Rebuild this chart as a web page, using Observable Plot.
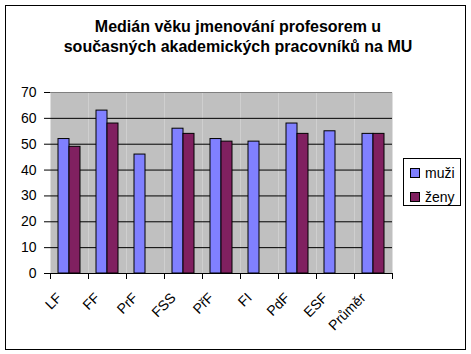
<!DOCTYPE html>
<html>
<head>
<meta charset="utf-8">
<script src="https://cdn.jsdelivr.net/npm/d3@7"></script>
<script src="https://cdn.jsdelivr.net/npm/@observablehq/plot@0.6"></script>
<style>
  html, body { margin: 0; padding: 0; background: #fff; }
  #wrap { position: relative; width: 471px; height: 354px; font-family: Arial, "Liberation Sans", sans-serif; color: #000; }
  #border { position: absolute; left: 5px; top: 5px; width: 459px; height: 343px; border: 1px solid #000; box-sizing: content-box; }
  #title { position: absolute; left: 3px; width: 470px; top: 17px; text-align: center; font-weight: bold; font-size: 16px; line-height: 20px; }
  #chart { position: absolute; left: 0; top: 0; }
  #legend { position: absolute; left: 403px; top: 158px; width: 56px; height: 46px; border: 1px solid #000; background: #fff; font-size: 14px; }
  .item { position: absolute; left: 6px; height: 16px; display: flex; align-items: center; }
  .sw { width: 8px; height: 8px; border: 1px solid #000; margin-right: 5px; }
</style>
</head>
<body>
<div id="wrap">
  <div id="border"></div>
  <div id="title">Medián věku jmenování profesorem u<br>současných akademických pracovníků na MU</div>
  <div id="chart"></div>
  <div id="legend"></div>
</div>
<script>
const categories = ["LF", "FF", "PrF", "FSS", "PřF", "FI", "PdF", "ESF", "Průměr"];
const seriesNames = ["muži", "ženy"];
const muzi = [52, 63, 46, 56, 52, 51, 58, 55, 54];
const zeny = [49, 58, null, 54, 51, null, 54, null, 54];
const seriesColors = ["#8080ff", "#802060"];
const yTicks = [0, 10, 20, 30, 40, 50, 60, 70];
const gridTicks = [10, 20, 30, 40, 50, 60];

const rows = [];
categories.forEach((c, i) => {
  if (muzi[i] != null) rows.push({cat: c, series: seriesNames[0], value: muzi[i]});
  if (zeny[i] != null) rows.push({cat: c, series: seriesNames[1], value: zeny[i]});
});

const plot = Plot.plot({
  width: 471,
  height: 354,
  marginLeft: 49,
  marginRight: 78,
  marginTop: 92,
  marginBottom: 81,
  style: {fontFamily: "Arial, 'Liberation Sans', sans-serif", fontSize: "14px", color: "#000", background: "transparent", overflow: "visible"},
  fx: {domain: categories, padding: 0, axis: null, label: null},
  x: {domain: seriesNames, paddingInner: 0, paddingOuter: 0.63, axis: null, label: null},
  y: {domain: [0, 70], axis: null, label: null},
  color: {domain: seriesNames, range: seriesColors},
  marks: [
    Plot.frame({fill: "#c0c0c0", stroke: "none"}),
    Plot.ruleY(gridTicks, {stroke: "#000", strokeWidth: 1}),
    Plot.ruleY([70], {stroke: "#808080", strokeWidth: 1}),
    Plot.barY(rows, {fx: "cat", x: "series", y: "value", fill: "series", stroke: "#000", strokeWidth: 1, inset: 0}),
    Plot.ruleY([0], {stroke: "#000", strokeWidth: 1}),
    Plot.frame({anchor: "left", stroke: "#000", insetTop: 181, insetBottom: -5}),
    Plot.frame({anchor: "right", stroke: "#000", insetTop: 181, insetBottom: -5}),
    Plot.axisY({ticks: yTicks, label: null, tickSize: 6, tickPadding: 8, fontSize: 14, line: true, stroke: "#000", strokeOpacity: 1}),
    Plot.text(categories, {fx: d => d, text: d => d, frameAnchor: "bottom", rotate: -45, textAnchor: "end", lineAnchor: "middle", dx: -10, dy: 22, fontSize: 14, fill: "#000"})
  ]
});
document.getElementById("chart").appendChild(plot);

const legend = document.getElementById("legend");
seriesNames.forEach((s, i) => {
  const item = document.createElement("div");
  item.className = "item";
  item.style.top = (6 + i * 24) + "px";
  const sw = document.createElement("span");
  sw.className = "sw";
  sw.style.background = seriesColors[i];
  const t = document.createElement("span");
  t.textContent = s;
  item.appendChild(sw);
  item.appendChild(t);
  legend.appendChild(item);
});
</script>
</body>
</html>
